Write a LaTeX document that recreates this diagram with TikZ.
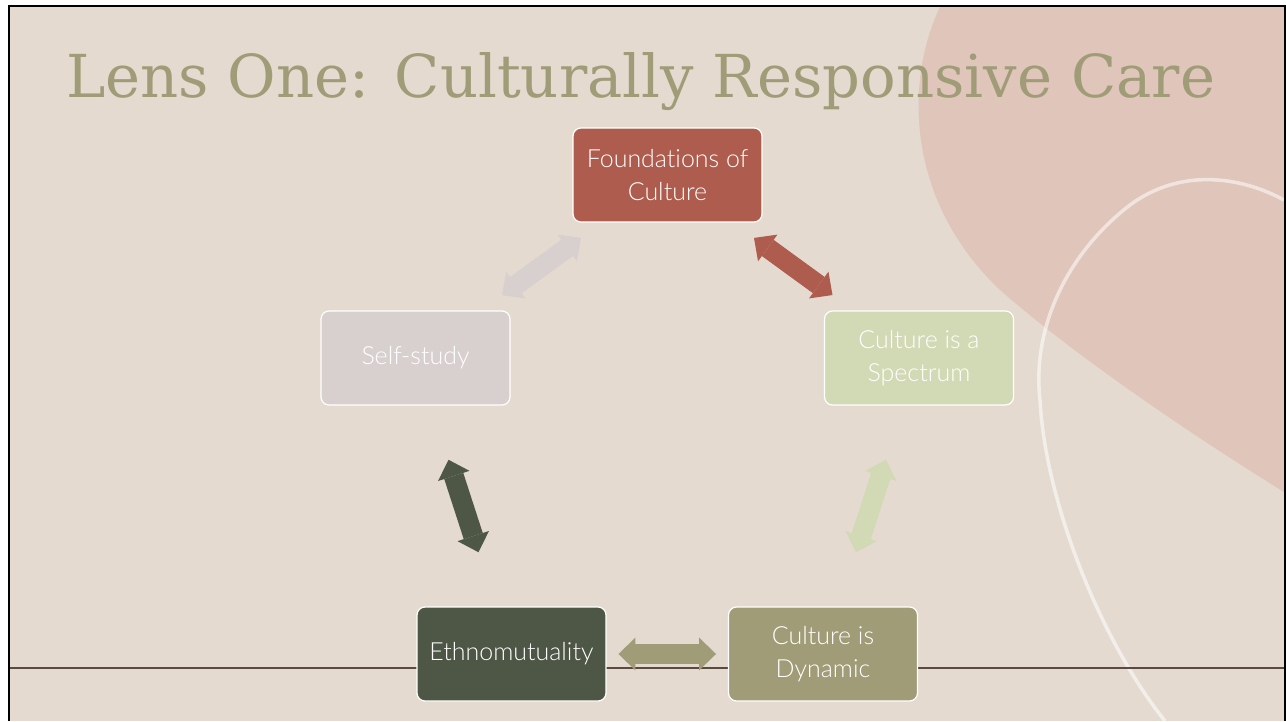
\documentclass[tikz,border=0pt]{standalone}
\usepackage{fontspec}
\setmainfont{Lato Light}[Ligatures=NoCommon]
\newfontfamily\titlefont{DejaVu Serif}
\usetikzlibrary{arrows.meta}

\definecolor{paper}{HTML}{E4DAD0}
\definecolor{blush}{HTML}{E0C5BA}
\definecolor{rust}{HTML}{AD5C4E}
\definecolor{mist}{HTML}{D8D0CE}
\definecolor{sage}{HTML}{D2D9B5}
\definecolor{forest}{HTML}{4E5645}
\definecolor{olive}{HTML}{A09C78}
\definecolor{rulecol}{HTML}{5B4A42}

\tikzset{
    box/.style = {draw=white, line width=0.7pt, rounded corners=0.16cm,
        minimum width=3.78cm, minimum height=1.88cm, inner sep=2pt,
        align=center, text=white, font=\fontsize{14.2}{18.8}\selectfont},
    link/.style = {line width=0.4cm, {Triangle[width=0.66cm, length=0.34cm, line width=0pt]}-{Triangle[width=0.66cm, length=0.34cm, line width=0pt]},
        shorten <=2.14cm, shorten >=2.14cm}
}

\begin{document}
\begin{tikzpicture}[x=0.02cm, y=-0.02cm]
        \useasboundingbox ( 0, 0 ) rectangle ( 1286, 721 );

        % фон слайда
        \fill [white] ( 0, 0 ) rectangle ( 1286, 721 );
        \fill [paper] ( 10, 7 ) rectangle ( 1284, 721 );

        % розовое пятно
        \fill [blush] ( 940, 7 ) .. controls ( 905, 80 ) and ( 905, 200 ) .. ( 1000, 290 )
            .. controls ( 1080, 360 ) and ( 1200, 440 ) .. ( 1284, 492 ) -- ( 1284, 7 ) -- cycle;

        % белая петля
        \draw [white, opacity=0.55, line width=0.07cm] ( 1284, 200 ) .. controls ( 1240, 176 ) and ( 1180, 168 ) .. ( 1130, 205 )
            .. controls ( 1065, 255 ) and ( 1032, 330 ) .. ( 1040, 400 )
            .. controls ( 1045, 500 ) and ( 1100, 640 ) .. ( 1165, 721 );

        % линия внизу
        \draw [rulecol, line width=0.04cm] ( 10, 668 ) -- ( 1284, 668 );

        % рамка
        \draw [black, line width=0.04cm] ( 9, 721 ) -- ( 9, 6 ) -- ( 1285, 6 ) -- ( 1285, 721 );

        % заголовок
        \node [anchor=base west, inner sep=0, text=olive, font=\titlefont\fontsize{33.7}{34}\selectfont] (title) at ( 66, 97 ) {Lens One: Culturally Responsive Care};

        % блоки
        \node [box, fill=rust] (found) at ( 667.5, 175 ) {Foundations of\\Culture};
        \node [box, fill=mist] (self) at ( 415.5, 358 ) {Self-study};
        \node [box, fill=sage] (spec) at ( 919, 358 ) {Culture is a\\Spectrum};
        \node [box, fill=forest] (ethno) at ( 511.5, 654 ) {Ethnomutuality};
        \node [box, fill=olive] (dyn) at ( 823, 654 ) {Culture is\\Dynamic};

        % стрелки
        \draw [link, rust] (found.center) -- (spec.center);
        \draw [link, sage] (spec.center) -- (dyn.center);
        \draw [link, olive] (dyn.center) -- (ethno.center);
        \draw [link, forest] (ethno.center) -- (self.center);
        \draw [link, mist] (self.center) -- (found.center);
    \end{tikzpicture}
\end{document}
